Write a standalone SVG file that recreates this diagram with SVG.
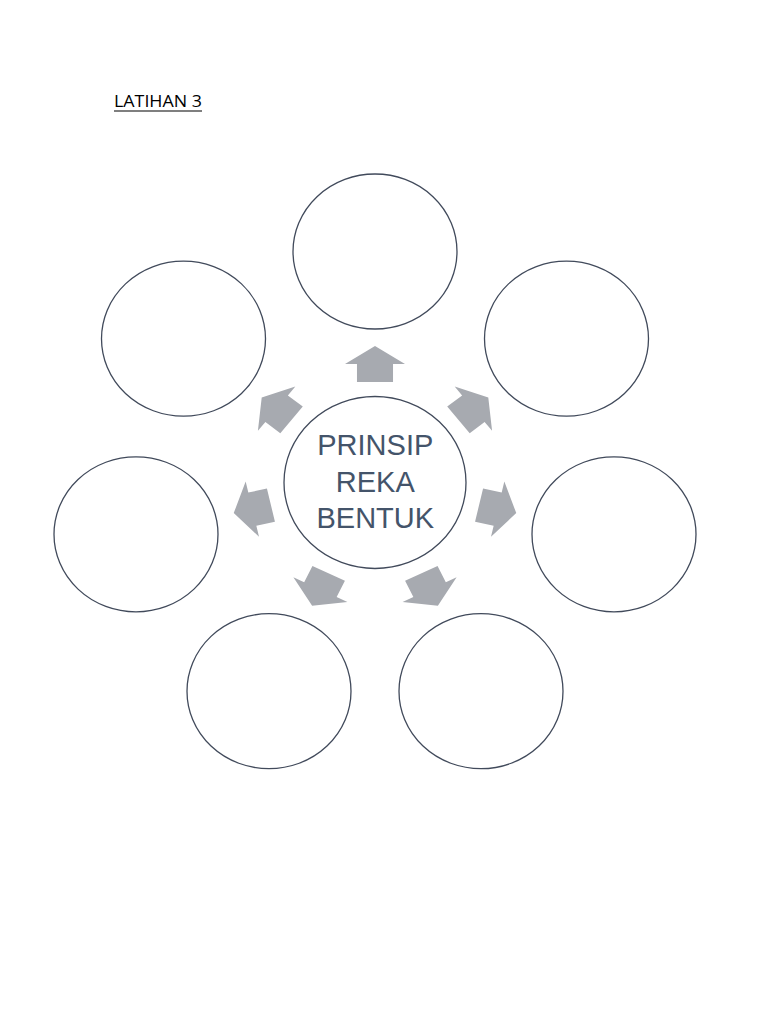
<svg xmlns="http://www.w3.org/2000/svg" width="768" height="1024" viewBox="0 0 768 1024">
<style>
.node{fill:#ffffff;stroke:#414a5b;stroke-width:1.3}
.arr{fill:#a7aab0}
.ctext{font-family:"Liberation Sans",Arial,sans-serif;font-size:29px;fill:#44546a;text-anchor:middle}
.title{font-family:"Open Sans","Liberation Sans",sans-serif;font-size:17px;fill:#000000}
</style>
<defs>
<polygon id="arrowShape" points="0,-18 28.3,0 17,0 17,18 -17,18 -17,0 -28.3,0"/>
</defs>
<rect width="768" height="1024" fill="#ffffff"/>
<g id="title">
<text class="title" x="114" y="107" textLength="88" lengthAdjust="spacingAndGlyphs">LATIHAN 3</text>
<line x1="114" y1="111" x2="202" y2="111" stroke="#000000" stroke-width="1.1"/>
</g>
<g id="connectors">
<g transform="translate(375,482.7) scale(1.06,1)">
<use href="#arrowShape" class="arr" transform="rotate(0) translate(0,-118.7)"/>
<use href="#arrowShape" class="arr" transform="rotate(51.4286) translate(0,-118.7)"/>
<use href="#arrowShape" class="arr" transform="rotate(102.857) translate(0,-118.7)"/>
<use href="#arrowShape" class="arr" transform="rotate(154.286) translate(0,-118.7)"/>
<use href="#arrowShape" class="arr" transform="rotate(205.714) translate(0,-118.7)"/>
<use href="#arrowShape" class="arr" transform="rotate(257.143) translate(0,-118.7)"/>
<use href="#arrowShape" class="arr" transform="rotate(308.571) translate(0,-118.7)"/>
</g>
</g>
<g id="center">
<ellipse class="node" cx="375" cy="482.5" rx="91" ry="86"/>
<text class="ctext" x="375.3" y="455"><tspan x="375.3" y="455">PRINSIP</tspan><tspan x="375.3" y="491.5">REKA</tspan><tspan x="375.3" y="528">BENTUK</tspan></text>
</g>
<g id="n1"><ellipse class="node" cx="375" cy="251.5" rx="82" ry="77.5"/></g>
<g id="n2"><ellipse class="node" cx="566.5" cy="338.7" rx="82" ry="77.5"/></g>
<g id="n3"><ellipse class="node" cx="614" cy="534.3" rx="82" ry="77.5"/></g>
<g id="n4"><ellipse class="node" cx="481" cy="691.2" rx="82" ry="77.5"/></g>
<g id="n5"><ellipse class="node" cx="269" cy="691.2" rx="82" ry="77.5"/></g>
<g id="n6"><ellipse class="node" cx="136" cy="534.3" rx="82" ry="77.5"/></g>
<g id="n7"><ellipse class="node" cx="183.5" cy="338.7" rx="82" ry="77.5"/></g>
</svg>
